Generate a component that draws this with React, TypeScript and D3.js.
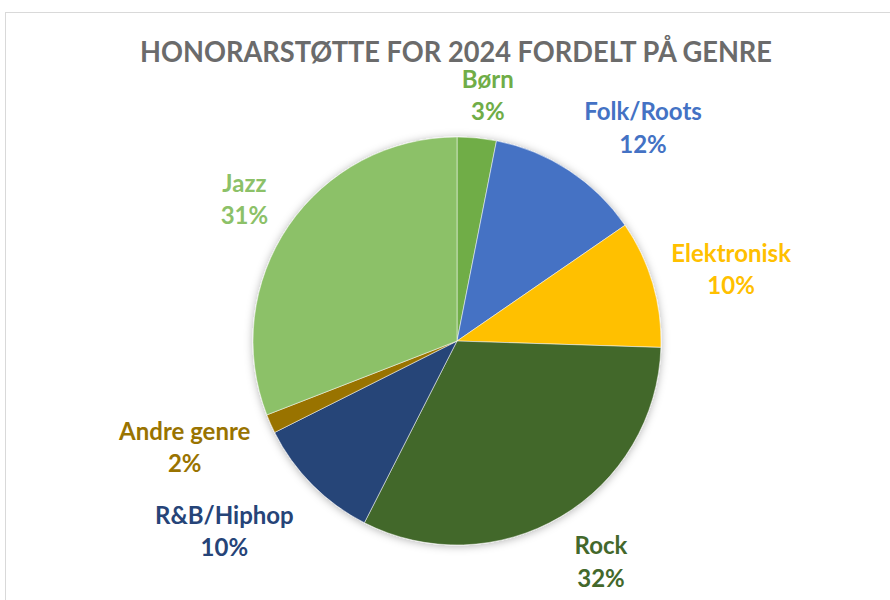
import React from 'react';
import * as d3 from 'd3';

const chartTitle = 'HONORARSTØTTE FOR 2024 FORDELT PÅ GENRE';
const genres = ['Børn', 'Folk/Roots', 'Elektronisk', 'Rock', 'R&B/Hiphop', 'Andre genre', 'Jazz'];
const shares = [3.1, 12.3, 10.1, 32.0, 10.1, 1.5, 30.9];
const colors = ['#70AD47', '#4472C4', '#FFC000', '#43682B', '#264478', '#997300', '#8CC168'];
// small layout nudges for label boxes (Excel "best fit")
const labelNudge: [number, number][] = [[6, 7], [28, -1], [-3, 0], [14, 3], [-21, 12], [-3, 4], [-4, 2]];

const W = 890, H = 600;
const CX = 457, CY = 341, R = 204, GAP = 25;
const FONT = 'Lato, "Open Sans", sans-serif';
const LABEL_SIZE = 24;
const BLOCK_H = 49;

export default function App() {
  const data = genres.map((g, i) => ({ genre: g, value: shares[i], color: colors[i], i }));
  const total = d3.sum(shares);
  const pie = d3.pie<any>().value((d: any) => d.value).sort(null);
  const arcs = pie(data);
  const arc = d3.arc<any>().innerRadius(0).outerRadius(R);
  const fmt = d3.format('.0%');

  let ctx: CanvasRenderingContext2D | null = null;
  if (typeof document !== 'undefined') {
    ctx = document.createElement('canvas').getContext('2d');
    if (ctx) ctx.font = `bold ${LABEL_SIZE}px Lato`;
  }
  const measure = (s: string) => (ctx ? ctx.measureText(s).width : s.length * 12);

  return (
    <svg width={W} height={H} style={{ position: 'absolute', left: 0, top: 0, background: '#fff' }}>
      <defs>
        <filter id="pieShadow" x="-20%" y="-20%" width="140%" height="140%">
          <feDropShadow dx="0" dy="1" stdDeviation="4" floodColor="#000" floodOpacity="0.3" />
        </filter>
      </defs>
      <rect x={5.5} y={12.5} width={1000} height={1000} fill="#fff" stroke="#d9d9d9" strokeWidth={1} />
      <text
        x={456}
        y={62}
        textAnchor="middle"
        fontFamily={FONT}
        fontWeight="bold"
        fontSize={27.7}
        fill="#6b6b6b"
        textLength={632}
        lengthAdjust="spacingAndGlyphs"
      >
        {chartTitle}
      </text>
      <g transform={`translate(${CX},${CY})`}>
        <g filter="url(#pieShadow)">
          {arcs.map((a: any) => (
            <path key={a.data.genre} d={arc(a) as string} fill={a.data.color} stroke="#fff" strokeWidth={0.5} />
          ))}
        </g>
        {arcs.map((a: any) => {
          const ang = (a.startAngle + a.endAngle) / 2;
          const s = Math.sin(ang), c = Math.cos(ang);
          const pct = fmt(a.data.value / total);
          const w = Math.max(measure(a.data.genre), measure(pct));
          const [nx, ny] = labelNudge[a.data.i];
          const bx = (R + GAP) * s + s * w / 2 + nx;
          const by = -(R + GAP) * c - c * BLOCK_H / 2 + ny;
          const top = by - BLOCK_H / 2;
          return (
            <g key={'l' + a.data.genre} fontFamily={FONT} fontWeight="bold" fontSize={LABEL_SIZE} fill={a.data.color} textAnchor="middle">
              <text x={bx} y={top + 16.8}>{a.data.genre}</text>
              <text x={bx} y={top + BLOCK_H}>{pct}</text>
            </g>
          );
        })}
      </g>
    </svg>
  );
}
